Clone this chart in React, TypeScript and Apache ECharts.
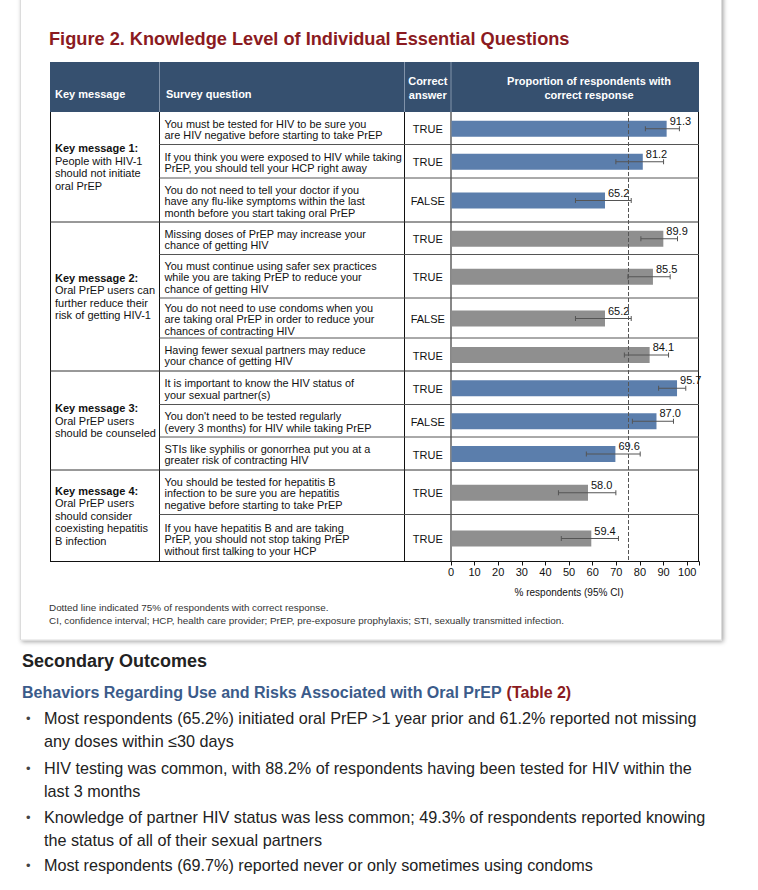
import React, { useEffect, useRef } from "react";
import * as echarts from "echarts";

// ---------------- data ----------------
const figureTitle = "Figure 2. Knowledge Level of Individual Essential Questions";
const headerLabels = ["Key message", "Survey question", "Correct\nanswer", "Proportion of respondents with\ncorrect response"];
const keyMessageTitles = ["Key message 1:", "Key message 2:", "Key message 3:", "Key message 4:"];
const keyMessageBodies = [
  ["People with HIV-1", "should not initiate", "oral PrEP"],
  ["Oral PrEP users can", "further reduce their", "risk of getting HIV-1"],
  ["Oral PrEP users", "should be counseled"],
  ["Oral PrEP users", "should consider", "coexisting hepatitis", "B infection"],
];
const questionGroup = [0, 0, 0, 1, 1, 1, 1, 2, 2, 2, 3, 3];
const questions = [
  ["You must be tested for HIV to be sure you", "are HIV negative before starting to take PrEP"],
  ["If you think you were exposed to HIV while taking", "PrEP, you should tell your HCP right away"],
  ["You do not need to tell your doctor if you", "have any flu-like symptoms within the last", "month before you start taking oral PrEP"],
  ["Missing doses of PrEP may increase your", "chance of getting HIV"],
  ["You must continue using safer sex practices", "while you are taking PrEP to reduce your", "chance of getting HIV"],
  ["You do not need to use condoms when you", "are taking oral PrEP in order to reduce your", "chances of contracting HIV"],
  ["Having fewer sexual partners may reduce", "your chance of getting HIV"],
  ["It is important to know the HIV status of", "your sexual partner(s)"],
  ["You don't need to be tested regularly", "(every 3 months) for HIV while taking PrEP"],
  ["STIs like syphilis or gonorrhea put you at a", "greater risk of contracting HIV"],
  ["You should be tested for hepatitis B", "infection to be sure you are hepatitis", "negative before starting to take PrEP"],
  ["If you have hepatitis B and are taking", "PrEP, you should not stop taking PrEP", "without first talking to your HCP"],
];
const correctAnswers = ["TRUE", "TRUE", "FALSE", "TRUE", "TRUE", "FALSE", "TRUE", "TRUE", "FALSE", "TRUE", "TRUE", "TRUE"];
const percentCorrect = [91.3, 81.2, 65.2, 89.9, 85.5, 65.2, 84.1, 95.7, 87.0, 69.6, 58.0, 59.4];
const ciLower = [82.3, 69.8, 52.7, 80.4, 74.9, 52.7, 73.4, 87.9, 76.8, 57.3, 45.5, 46.7];
const ciUpper = [96.7, 90.0, 76.3, 95.9, 92.8, 76.3, 92.1, 99.4, 94.2, 80.1, 69.8, 70.9];
const xTickMax = 100;
const referenceLevel = 75;
const xAxisTitle = "% respondents (95% CI)";
const footnotes = [
  "Dotted line indicated 75% of respondents with correct response.",
  "CI, confidence interval; HCP, health care provider; PrEP, pre-exposure prophylaxis; STI, sexually transmitted infection.",
];
const sectionHeading = "Secondary Outcomes";
const subHeading = "Behaviors Regarding Use and Risks Associated with Oral PrEP";
const subHeadingRef = "(Table 2)";
const bulletParagraphs = [
  ["Most respondents (65.2%) initiated oral PrEP >1 year prior and 61.2% reported not missing", "any doses within \u226430 days"],
  ["HIV testing was common, with 88.2% of respondents having been tested for HIV within the", "last 3 months"],
  ["Knowledge of partner HIV status was less common; 49.3% of respondents reported knowing", "the status of all of their sexual partners"],
  ["Most respondents (69.7%) reported never or only sometimes using condoms"],
];

// ---------------- layout ----------------
const W = 758;
const H = 890;
const FONT = "'Liberation Sans', Arial, Helvetica, sans-serif";
const TABLE_LEFT = 50;
const COL_Q = 159.5;
const COL_A = 404.5;
const COL_C = 451;
const TABLE_RIGHT = 699;
const HEADER_TOP = 62;
const HEADER_BOTTOM = 112;
const rowHeights = [32.5, 33.5, 44, 32.5, 43.5, 40, 33, 33.5, 32.5, 33, 44.5, 47];
const BAR_H = 16;
const groupColors = ["#5b7eac", "#8f8f8f"];
const HEADER_FILL = "#36506f";
const TITLE_RED = "#8b1a21";
const SUB_BLUE = "#3b5b8a";

export default function App() {
  const ref = useRef<HTMLDivElement>(null);

  useEffect(() => {
    if (!ref.current) return;
    const chart = echarts.init(ref.current, undefined, { renderer: "svg" });

    const rowEdges: number[] = [0];
    rowHeights.forEach((h) => rowEdges.push(rowEdges[rowEdges.length - 1] + h));
    const totalH = rowEdges[rowEdges.length - 1];
    const rowCenter = rowHeights.map((h, i) => rowEdges[i] + h / 2 + 0.5);
    const py = (v: number) => HEADER_BOTTOM + v;

    const g: any[] = [];
    // card
    g.push({
      type: "rect", z: -10,
      shape: { x: 20.5, y: -20, width: 701, height: 660 },
      style: { fill: "#fff", stroke: "#dcdcdc", lineWidth: 1, shadowBlur: 4, shadowColor: "rgba(0,0,0,0.35)", shadowOffsetX: 1.5, shadowOffsetY: 1.5 },
    });
    // title
    g.push({ type: "text", x: 49, y: 39, style: { text: figureTitle, fill: TITLE_RED, fontFamily: FONT, fontWeight: "bold", fontSize: 18.2, verticalAlign: "middle" } });
    // header
    g.push({ type: "rect", shape: { x: TABLE_LEFT, y: HEADER_TOP, width: TABLE_RIGHT - TABLE_LEFT, height: HEADER_BOTTOM - HEADER_TOP }, style: { fill: HEADER_FILL } });
    [COL_Q, COL_A, COL_C].forEach((x) => {
      g.push({ type: "line", shape: { x1: x, y1: HEADER_TOP, x2: x, y2: HEADER_BOTTOM }, style: { stroke: "#8193aa", lineWidth: 1 } });
    });
    const hStyle = { fill: "#fff", fontFamily: FONT, fontWeight: "bold", fontSize: 11, verticalAlign: "middle", lineHeight: 13.5 };
    g.push({ type: "text", x: 55, y: 94, style: { ...hStyle, text: headerLabels[0] } });
    g.push({ type: "text", x: 166, y: 94, style: { ...hStyle, text: headerLabels[1] } });
    g.push({ type: "text", x: (COL_A + COL_C) / 2, y: 88, style: { ...hStyle, text: headerLabels[2], align: "center" } });
    g.push({ type: "text", x: 589, y: 88, style: { ...hStyle, text: headerLabels[3], align: "center" } });

    // table grid
    const bodyBottom = py(totalH);
    [TABLE_LEFT + 0.5, COL_Q, COL_A, COL_C, TABLE_RIGHT - 0.5].forEach((x) => {
      g.push({ type: "line", shape: { x1: x, y1: HEADER_BOTTOM, x2: x, y2: bodyBottom }, style: { stroke: "#111", lineWidth: 1 } });
    });
    for (let i = 1; i < rowHeights.length; i++) {
      const y = py(rowEdges[i]);
      const newGroup = questionGroup[i] !== questionGroup[i - 1];
      g.push({
        type: "line",
        shape: { x1: newGroup ? TABLE_LEFT : COL_Q, y1: y, x2: TABLE_RIGHT, y2: y },
        style: { stroke: newGroup ? "#333" : "#555", lineWidth: 1 },
      });
    }
    g.push({ type: "line", shape: { x1: TABLE_LEFT, y1: bodyBottom, x2: TABLE_RIGHT, y2: bodyBottom }, style: { stroke: "#111", lineWidth: 1 } });

    // key messages
    keyMessageTitles.forEach((t, k) => {
      const rows = questionGroup.map((gi, i) => (gi === k ? i : -1)).filter((i) => i >= 0);
      const top = rowEdges[rows[0]];
      const bot = rowEdges[rows[rows.length - 1] + 1];
      const text = `{b|${t}}\n` + keyMessageBodies[k].map((l) => `{n|${l}}`).join("\n");
      g.push({
        type: "text", x: 55, y: py((top + bot) / 2),
        style: {
          text, verticalAlign: "middle", fill: "#111",
          rich: {
            b: { fontFamily: FONT, fontSize: 11, fontWeight: "bold", lineHeight: 12.5, fill: "#111" },
            n: { fontFamily: FONT, fontSize: 11, lineHeight: 12.5, fill: "#111" },
          },
        },
      });
    });
    // questions and answers
    questions.forEach((lines, i) => {
      const yc = py(rowEdges[i] + rowHeights[i] / 2 + 1);
      g.push({ type: "text", x: 164.5, y: yc, style: { text: lines.join("\n"), fill: "#111", fontFamily: FONT, fontSize: 10.9, lineHeight: 11.5, verticalAlign: "middle" } });
      g.push({ type: "text", x: (COL_A + COL_C) / 2, y: yc, style: { text: correctAnswers[i], fill: "#111", fontFamily: FONT, fontSize: 11, align: "center", verticalAlign: "middle" } });
    });

    // footnotes
    footnotes.forEach((f, i) => {
      g.push({ type: "text", x: 49, y: 607 + i * 13.5, style: { text: f, fill: "#333", fontFamily: FONT, fontSize: 9.9, verticalAlign: "middle" } });
    });

    // lower text
    g.push({ type: "text", x: 22, y: 661, style: { text: sectionHeading, fill: "#222", fontFamily: FONT, fontWeight: "bold", fontSize: 18, verticalAlign: "middle" } });
    g.push({
      type: "text", x: 22, y: 692,
      style: {
        text: `{a|${subHeading} }{r|${subHeadingRef}}`, verticalAlign: "middle",
        rich: {
          a: { fill: SUB_BLUE, fontFamily: FONT, fontWeight: "bold", fontSize: 16 },
          r: { fill: TITLE_RED, fontFamily: FONT, fontWeight: "bold", fontSize: 16 },
        },
      },
    });
    const paraTops = [718, 768, 817, 865];
    bulletParagraphs.forEach((p, i) => {
      g.push({ type: "text", x: 26, y: paraTops[i], style: { text: "\u2022", fill: "#444", fontFamily: FONT, fontSize: 13, verticalAlign: "middle" } });
      g.push({ type: "text", x: 44, y: paraTops[i] - 11.25, style: { text: p.join("\n"), fill: "#222", fontFamily: FONT, fontSize: 16.2, lineHeight: 22.5, verticalAlign: "top" } });
    });

    const seriesData = percentCorrect.map((v, i) => [v, ciLower[i], ciUpper[i], rowCenter[i], questionGroup[i] % 2]);

    chart.setOption({
      animation: false,
      backgroundColor: "#fff",
      grid: { left: COL_C, right: W - TABLE_RIGHT, top: HEADER_BOTTOM, height: totalH, containLabel: false },
      xAxis: {
        type: "value", min: 0, max: 105, interval: 10, position: "bottom",
        axisLine: { show: true, onZero: false, lineStyle: { color: "#111", width: 1 } },
        axisTick: { show: true, length: 4, inside: false, lineStyle: { color: "#111" } },
        axisLabel: {
          color: "#111", fontFamily: FONT, fontSize: 11, margin: 5,
          formatter: (v: number) => (v > xTickMax ? "" : String(v)),
        },
        splitLine: { show: false },
        name: xAxisTitle, nameLocation: "middle", nameGap: 26,
        nameTextStyle: { color: "#111", fontFamily: FONT, fontSize: 10, padding: [0, 12, 0, 0] },
      },
      yAxis: { type: "value", min: 0, max: totalH, inverse: true, show: false },
      series: [
        {
          type: "custom",
          data: seriesData,
          encode: { x: [0, 1, 2], y: 3 },
          clip: false,
          renderItem: (params: any, api: any) => {
            const v = api.value(0), lo = api.value(1), hi = api.value(2), yv = api.value(3), gi = api.value(4);
            const [x0, y] = api.coord([0, yv]);
            const [x1] = api.coord([v, yv]);
            const [xl] = api.coord([lo, yv]);
            const [xh] = api.coord([hi, yv]);
            const ebColor = "#555";
            return {
              type: "group",
              children: [
                { type: "rect", shape: { x: x0 + 0.5, y: y - BAR_H / 2, width: x1 - x0 - 0.5, height: BAR_H }, style: { fill: groupColors[gi] } },
                { type: "line", shape: { x1: xl, y1: y, x2: xh, y2: y }, style: { stroke: ebColor, lineWidth: 1 } },
                { type: "line", shape: { x1: xl, y1: y - 2.5, x2: xl, y2: y + 2.5 }, style: { stroke: ebColor, lineWidth: 1 } },
                { type: "line", shape: { x1: xh, y1: y - 2.5, x2: xh, y2: y + 2.5 }, style: { stroke: ebColor, lineWidth: 1 } },
                {
                  type: "text", x: x1 + 3, y: y - 8,
                  style: { text: v.toFixed(1), fill: "#111", fontFamily: FONT, fontSize: 11, align: "left", verticalAlign: "middle" },
                },
              ],
            };
          },
          markLine: {
            silent: true, symbol: ["none", "none"], label: { show: false },
            lineStyle: { type: [4, 2], color: "#555", width: 1 },
            data: [{ xAxis: referenceLevel }],
          },
        },
      ],
      graphic: { elements: g },
    });

    return () => chart.dispose();
  }, []);

  return <div ref={ref} style={{ position: "fixed", left: 0, top: 0, width: W, height: H, background: "#fff" }} />;
}
